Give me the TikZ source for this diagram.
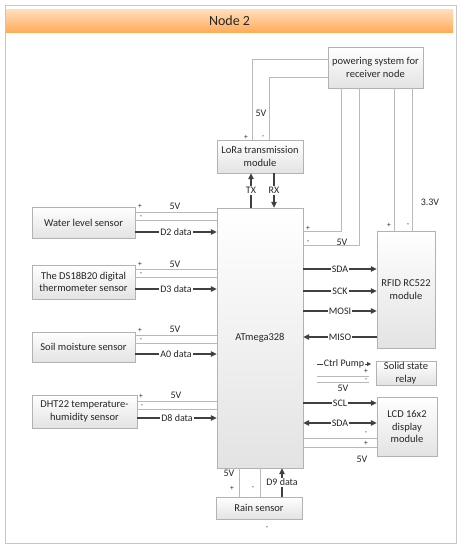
\documentclass[tikz,border=0pt]{standalone}
\usepackage{fontspec}
\setmainfont{Carlito}
\usetikzlibrary{arrows.meta,shadows}
\begin{document}
\begin{tikzpicture}[x=1pt,y=-1pt,
 box/.style={draw=gray!60, top color=white, bottom color=gray!22, text=black!85, align=center,
   font=\fontsize{10.5}{12.5}\selectfont, inner sep=1pt,
   drop shadow={opacity=0.25, shadow xshift=1.2pt, shadow yshift=-1.2pt}},
 lbl/.style={font=\fontsize{10}{12}\selectfont, text=black!85, inner sep=1pt},
 sml/.style={font=\fontsize{7.5}{8}\selectfont, text=black!85, inner sep=0.3pt},
 onl/.style={lbl, fill=white, midway},
 pwr/.style={draw=gray!55, line width=0.6pt},
 data/.style={draw=black!75, line width=1.1pt, -{Triangle[length=6pt,width=5.5pt]}},
 both/.style={draw=black!75, line width=1.1pt, {Triangle[length=6pt,width=5.5pt]}-{Triangle[length=6pt,width=5.5pt]}},
 thin data/.style={draw=black!75, line width=0.8pt, -{Triangle[length=4pt,width=4pt]}}
]
\useasboundingbox (0,0) rectangle (461,550);
% frame and header
\draw[gray!45, fill=white, drop shadow={opacity=0.15, shadow xshift=1pt, shadow yshift=-1pt}] (5,5) rectangle (456,543);
\node[top color=orange!25, bottom color=orange!65!white, minimum width=447pt, minimum height=23pt, inner sep=0pt,
  font=\fontsize{14}{16}\selectfont, text=black!85] (hdr) at (229.5,20.5) {Node 2};

% boxes
\node[box, minimum width=95pt, minimum height=41pt] (pow) at (375.5,67.5) {powering system for\\receiver node};
\node[box, minimum width=86pt, minimum height=33pt] (lora) at (260,156.5) {LoRa transmission\\module};
\node[box, minimum width=86pt, minimum height=260pt] (atm) at (260,338) {ATmega328};
\node[box, minimum width=103pt, minimum height=31pt] (water) at (83.5,222.5) {Water level sensor};
\node[box, minimum width=103pt, minimum height=34pt] (ds) at (83.5,282) {The DS18B20 digital\\thermometer sensor};
\node[box, minimum width=103pt, minimum height=30pt] (soil) at (83.5,347) {Soil moisture sensor};
\node[box, minimum width=105pt, minimum height=33pt] (dht) at (84.5,411.5) {DHT22 temperature-\\humidity sensor};
\node[box, minimum width=58pt, minimum height=117pt] (rfid) at (406,289.5) {RFID RC522\\module};
\node[box, minimum width=60pt, minimum height=22pt] (ssr) at (406,373) {Solid state\\relay};
\node[box, minimum width=60pt, minimum height=59pt] (lcd) at (407,426.5) {LCD 16x2\\display\\module};
\node[box, minimum width=86pt, minimum height=22pt] (rain) at (259,508) {Rain sensor};

% powering system lines
\draw[pwr] (pow.west |- 0,59) -| (lora.north -| 252,0);
\draw[pwr] (pow.west |- 0,77) -| (lora.north -| 269,0);
\draw[pwr] (pow.south -| 341,0) |- (atm.east |- 0,231);
\draw[pwr] (pow.south -| 359,0) |- (atm.east |- 0,245);
\draw[pwr] (pow.south -| 394,0) -- (rfid.north -| 394,0);
\draw[pwr] (pow.south -| 412,0) -- (rfid.north -| 412,0);
\node[lbl] (l5a) at (261,113) {5V};
\node[sml] (lpa) at (246,137) {+};
\node[sml] (lma) at (263,137) {-};
\node[sml] (lpb) at (308,228) {+};
\node[sml] (lmb) at (308,242) {-};
\node[lbl] (l5b) at (342,242) {5V};
\node[sml] (lpc) at (389,225) {+};
\node[sml] (lmc) at (408,225) {-};
\node[lbl] (l33) at (430,202) {3.3V};

% LoRa TX/RX
\draw[data] (atm.north -| 251,0) -- (lora.south -| 251,0) node[onl] {TX};
\draw[data] (lora.south -| 274,0) -- (atm.north -| 274,0) node[onl] {RX};

% left sensors
\draw[pwr] (water.east |- 0,212) -- (atm.west |- 0,212);
\draw[pwr] (water.east |- 0,220) -- (atm.west |- 0,220);
\draw[data] (water.east |- 0,232) -- (atm.west |- 0,232) node[onl] {D2 data};
\node[sml] (wp) at (140,206) {+};
\node[sml] (wm) at (141,217) {-};
\node[lbl] (w5) at (175,206) {5V};

\draw[pwr] (ds.east |- 0,269) -- (atm.west |- 0,269);
\draw[pwr] (ds.east |- 0,277) -- (atm.west |- 0,277);
\draw[data] (ds.east |- 0,289) -- (atm.west |- 0,289) node[onl] {D3 data};
\node[sml] (dp) at (140,264) {+};
\node[sml] (dm) at (141,274) {-};
\node[lbl] (d5) at (175,264) {5V};

\draw[pwr] (soil.east |- 0,335) -- (atm.west |- 0,335);
\draw[pwr] (soil.east |- 0,343) -- (atm.west |- 0,343);
\draw[data] (soil.east |- 0,354) -- (atm.west |- 0,354) node[onl] {A0 data};
\node[sml] (sp) at (140,330) {+};
\node[sml] (sm) at (141,340) {-};
\node[lbl] (s5) at (175,329) {5V};

\draw[pwr] (dht.east |- 0,401) -- (atm.west |- 0,401);
\draw[pwr] (dht.east |- 0,409) -- (atm.west |- 0,409);
\draw[data] (dht.east |- 0,418) -- (atm.west |- 0,418) node[onl] {D8 data};
\node[sml] (hp) at (141,396) {+};
\node[sml] (hm) at (142,406) {-};
\node[lbl] (h5) at (176,395) {5V};

% RFID bus
\draw[data] (atm.east |- 0,269) -- (rfid.west |- 0,269) node[onl] {SDA};
\draw[data] (atm.east |- 0,291) -- (rfid.west |- 0,291) node[onl] {SCK};
\draw[data] (atm.east |- 0,311) -- (rfid.west |- 0,311) node[onl] {MOSI};
\draw[data] (rfid.west |- 0,337) -- (atm.east |- 0,337) node[onl] {MISO};

% relay
\coordinate (cpa) at (317,364);
\coordinate (cpb) at (371,364);
\coordinate (rpa) at (317,376);
\coordinate (rpb) at (369,376);
\coordinate (rma) at (317,382);
\coordinate (rmb) at (369,382);
\draw[thin data] (cpa) -- (cpb) node[onl] {Ctrl Pump};
\draw[pwr] (rpa) -- (rpb);
\draw[pwr] (rma) -- (rmb);
\node[sml] (rp) at (366,371.5) {+};
\node[sml] (rm) at (366,380.5) {-};
\node[lbl] (r5) at (343,388) {5V};

% LCD
\draw[data] (atm.east |- 0,403) -- (lcd.west |- 0,403) node[onl] {SCL};
\draw[both] (atm.east |- 0,423) -- (lcd.west |- 0,423) node[onl] {SDA};
\draw[pwr] (atm.east |- 0,438) -- (lcd.west |- 0,438);
\draw[pwr] (atm.east |- 0,447) -- (lcd.west |- 0,447);
\node[sml] (lm) at (366,433) {-};
\node[sml] (lp) at (366,443) {+};
\node[lbl] (l5) at (362,459) {5V};

% rain
\draw[pwr] (atm.south -| 239,0) -- (rain.north -| 239,0);
\draw[pwr] (atm.south -| 260,0) -- (rain.north -| 260,0);
\draw[data] (rain.north -| 282,0) -- (atm.south -| 282,0) node[onl] {D9 data};
\node[lbl] (ra5) at (229,473) {5V};
\node[sml] (rap) at (232,488) {+};
\node[sml] (ram) at (253,488) {-};
\node[sml] (rab) at (267,528) {-};
\end{tikzpicture}
\end{document}
